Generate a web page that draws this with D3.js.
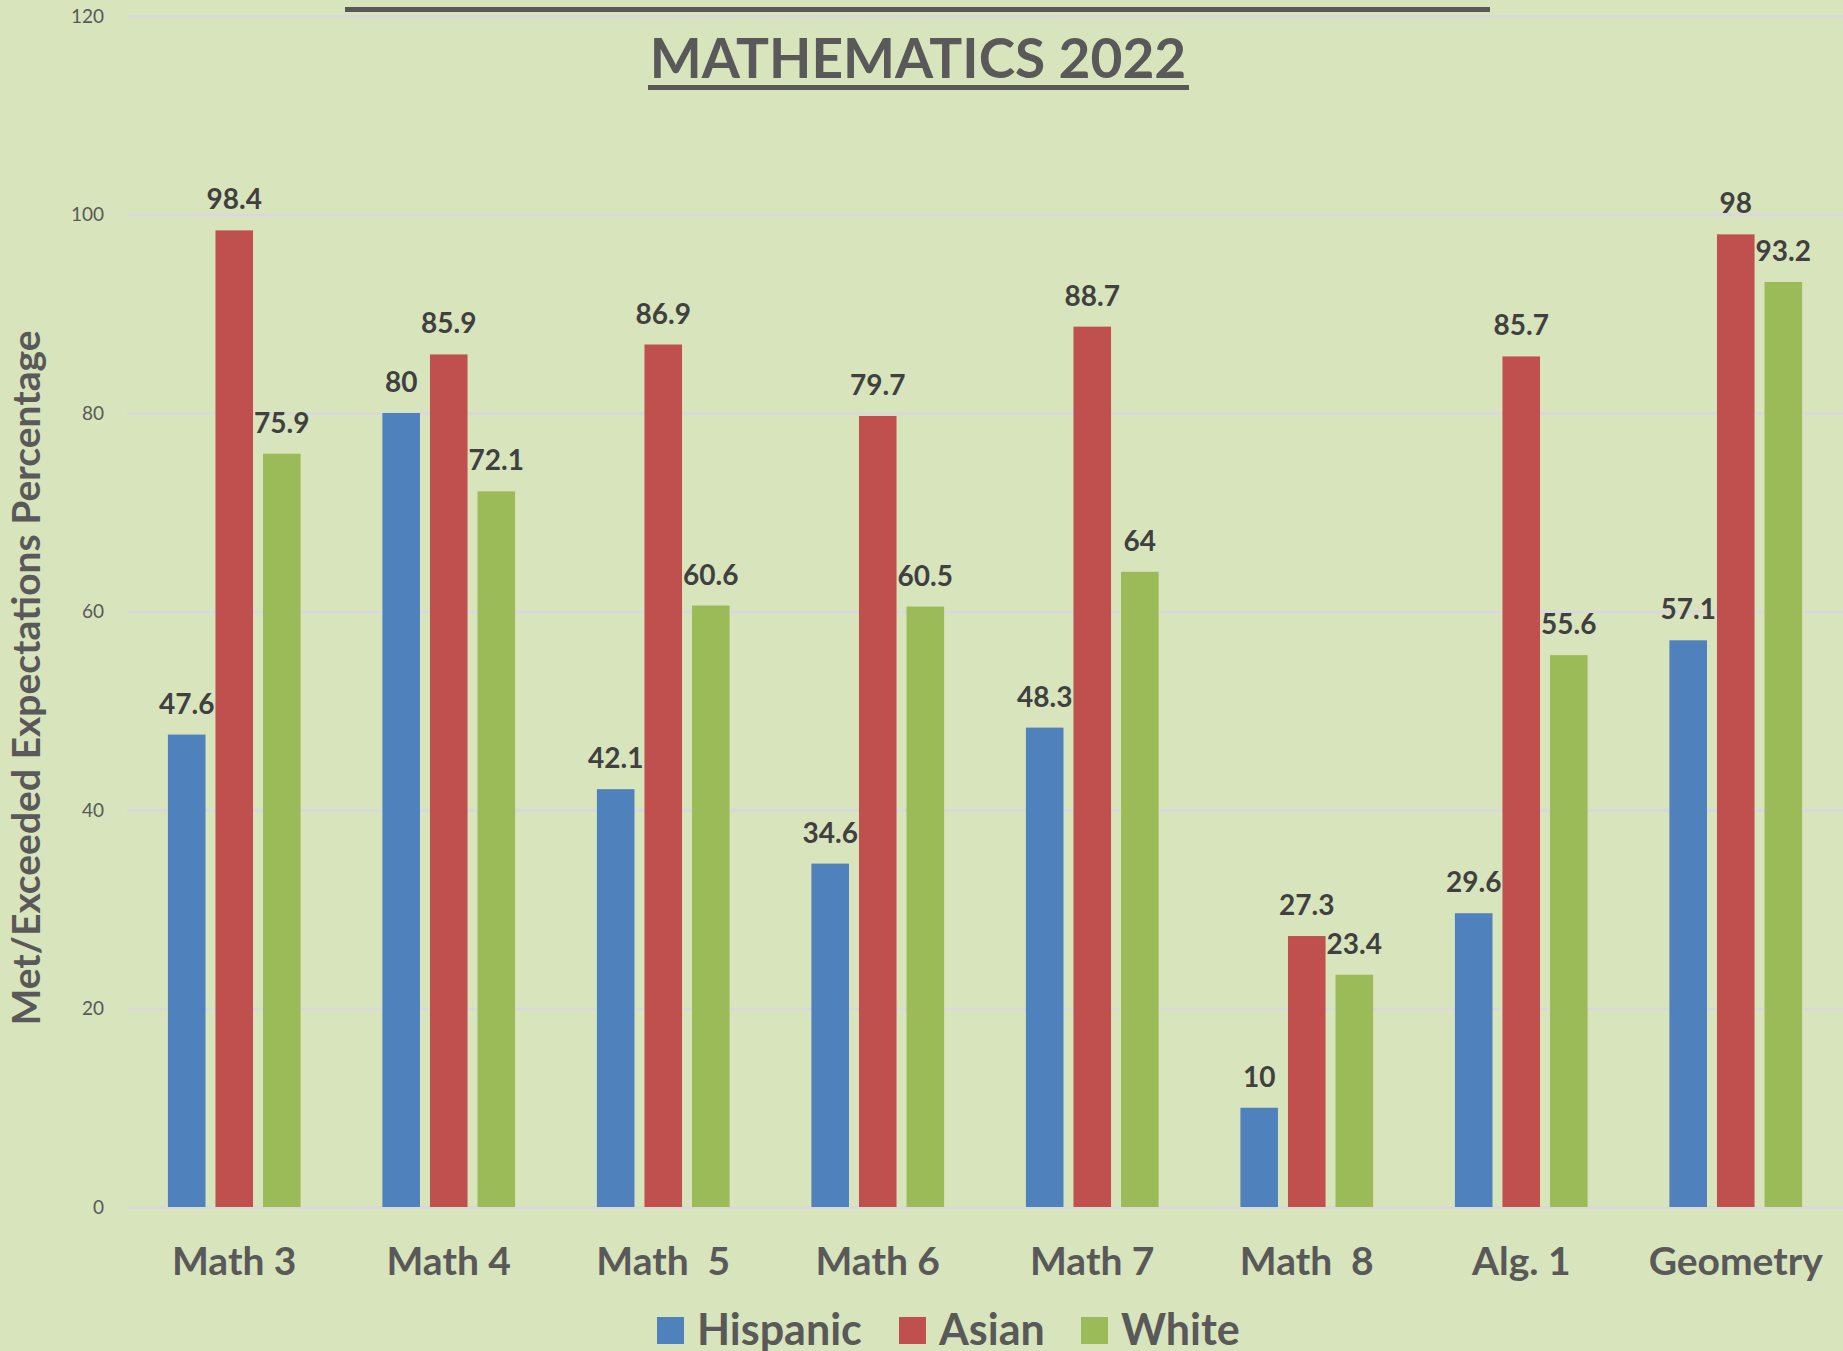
<!DOCTYPE html>
<html>
<head>
<meta charset="utf-8">
<script src="https://cdn.jsdelivr.net/npm/d3@7"></script>
<style>
  html, body { margin: 0; padding: 0; background: #D8E4BC; }
  svg { display: block; font-family: Lato, "Open Sans", sans-serif; }
</style>
</head>
<body>
<svg id="chart" width="1843" height="1351"></svg>
<script>
var categories = ["Math 3", "Math 4", "Math  5", "Math 6", "Math 7", "Math  8", "Alg. 1", "Geometry"];
var seriesNames = ["Hispanic", "Asian", "White"];
var hispanic = [47.6, 80, 42.1, 34.6, 48.3, 10, 29.6, 57.1];
var asian = [98.4, 85.9, 86.9, 79.7, 88.7, 27.3, 85.7, 98];
var white = [75.9, 72.1, 60.6, 60.5, 64, 23.4, 55.6, 93.2];
var yTicks = [0, 20, 40, 60, 80, 100, 120];
var colors = ["#4F81BD", "#C0504D", "#9BBB59"];

var seriesValues = [hispanic, asian, white];
var data = categories.map(function (c, i) {
  return { cat: c, vals: seriesNames.map(function (s, j) { return { name: s, value: seriesValues[j][i] }; }) };
});

var svg = d3.select("#chart");
var margin = { top: 16, right: 0, bottom: 144, left: 127 };
var width = +svg.attr("width") - margin.left - margin.right;
var height = +svg.attr("height") - margin.top - margin.bottom;

svg.append("rect").attr("width", 1843).attr("height", 1351).attr("fill", "#D8E4BC");

var x0 = d3.scaleBand().domain(categories).range([0, width]).padding(0);
var x1 = d3.scaleBand().domain(seriesNames).range([0, x0.bandwidth()])
  .paddingInner(0.21).paddingOuter(0.86);
var y = d3.scaleLinear().domain([0, 120]).range([height, 0]);

var g = svg.append("g").attr("transform", "translate(" + margin.left + "," + margin.top + ")");

// gridlines + y tick labels
g.append("g")
  .attr("class", "y axis")
  .call(d3.axisLeft(y).tickValues(yTicks).tickSize(-width).tickPadding(23))
  .call(function (a) {
    a.select(".domain").remove();
    a.selectAll(".tick line").attr("stroke", "#D9D9D9").attr("stroke-width", 3);
    a.selectAll(".tick text").attr("fill", "#595959").style("font-size", "19px").style("font-family", "Lato, sans-serif");
  });

// bars
var groups = g.selectAll(".grp")
  .data(data)
  .enter()
  .append("g")
  .attr("class", "grp")
  .attr("transform", function (d) { return "translate(" + x0(d.cat) + ",0)"; });

groups.selectAll("rect")
  .data(function (d) { return d.vals; })
  .enter()
  .append("rect")
  .attr("x", function (d) { return x1(d.name); })
  .attr("width", x1.bandwidth())
  .attr("y", function (d) { return y(d.value); })
  .attr("height", function (d) { return y(0) - y(d.value); })
  .attr("fill", function (d, i) { return colors[i]; });

groups.selectAll(".lbl")
  .data(function (d) { return d.vals; })
  .enter()
  .append("text")
  .attr("class", "lbl")
  .attr("x", function (d) { return x1(d.name) + x1.bandwidth() / 2; })
  .attr("y", function (d) { return y(d.value) - 21; })
  .attr("text-anchor", "middle")
  .attr("fill", "#404040")
  .style("font-size", "28px")
  .style("font-weight", "bold")
  .text(function (d) { return d.value; });

// x axis labels
g.append("g")
  .attr("class", "x axis")
  .attr("transform", "translate(0," + height + ")")
  .call(d3.axisBottom(x0).tickSize(0))
  .call(function (a) {
    a.select(".domain").remove();
    a.selectAll(".tick text")
      .attr("fill", "#595959")
      .attr("dy", "0")
      .attr("y", 68)
      .style("font-size", "39px")
      .style("font-weight", "bold")
      .style("font-family", "Lato, sans-serif")
      .style("white-space", "pre");
  });

// y axis title
svg.append("text")
  .attr("transform", "translate(40,678) rotate(-90)")
  .attr("text-anchor", "middle")
  .attr("fill", "#595959")
  .style("font-size", "39px")
  .style("font-weight", "bold")
  .text("Met/Exceeded Expectations Percentage");

// title (first line runs off the top edge)
svg.append("text")
  .attr("x", 917).attr("y", -10)
  .attr("text-anchor", "middle")
  .attr("fill", "#595959")
  .style("font-size", "55px")
  .style("font-weight", "bold")
  .text("HISPANIC, ASIAN AND WHITE STUDENTS");
svg.append("rect").attr("x", 345).attr("y", 7).attr("width", 1145).attr("height", 5).attr("fill", "#595959");

svg.append("text")
  .attr("x", 918).attr("y", 78)
  .attr("text-anchor", "middle")
  .attr("fill", "#595959")
  .style("font-size", "55px")
  .style("font-weight", "bold")
  .text("MATHEMATICS 2022");
svg.append("rect").attr("x", 648).attr("y", 85).attr("width", 541).attr("height", 5).attr("fill", "#595959");

// legend
var legendX = [657, 899, 1081];
var legend = svg.append("g").attr("class", "legend");
seriesNames.forEach(function (s, i) {
  legend.append("rect")
    .attr("x", legendX[i]).attr("y", 1317)
    .attr("width", 27).attr("height", 27)
    .attr("fill", colors[i]);
  legend.append("text")
    .attr("x", legendX[i] + 40).attr("y", 1345)
    .attr("fill", "#595959")
    .style("font-size", "43px")
    .style("font-weight", "bold")
    .text(s);
});
</script>
</body>
</html>
